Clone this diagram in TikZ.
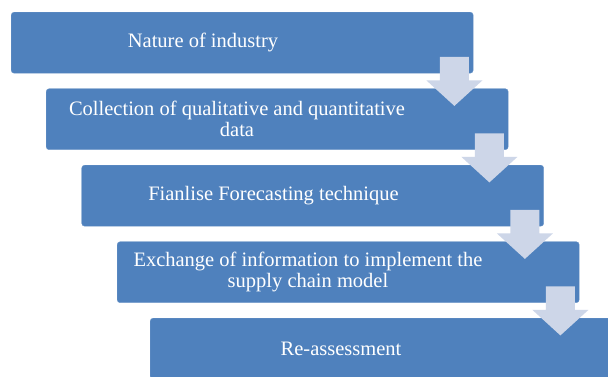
\documentclass[tikz,border=0pt]{standalone}
\usepackage{fontspec}
\setmainfont{Liberation Serif}
\usetikzlibrary{calc}
\definecolor{boxblue}{HTML}{4F81BD}
\definecolor{arrowgrey}{HTML}{CDD6E8}
\tikzset{
  stepbox/.style={draw=boxblue!85!white, line width=0.4pt, fill=boxblue, rounded corners=3pt,
    minimum width=462pt, minimum height=61pt, anchor=north west, inner sep=0pt},
  steptext/.style={text=white, font=\fontsize{20.5}{21}\selectfont, align=center, inner sep=0pt},
  blockarrow/.style={fill=arrowgrey, draw=none}
}
\newcommand{\downarrowshape}[1]{%
  \fill[blockarrow] ($(#1)+(-14.5,-16.5)$) -- ($(#1)+(14.5,-16.5)$) -- ($(#1)+(14.5,7)$)
    -- ($(#1)+(28,7)$) -- ($(#1)+(0,32.5)$) -- ($(#1)+(-28,7)$) -- ($(#1)+(-14.5,7)$) -- cycle;}
\begin{document}
\begin{tikzpicture}[x=1pt,y=-1pt]
\clip (0,0) rectangle (608,376);
\fill[white] (0,0) rectangle (608,376);
% boxes
\node[stepbox] (b1) at (11,12) {};
\node[stepbox] (b2) at (46,88.5) {};
\node[stepbox] (b3) at (81.5,165) {};
\node[stepbox] (b4) at (117,241.5) {};
\node[stepbox] (b5) at (150,318) {};
% texts
\node[steptext] (t1) at ([xshift=192pt]b1.west) {Nature of industry};
\node[steptext] (t2) at ([xshift=191pt]b2.west) {Collection of qualitative and quantitative\\data};
\node[steptext] (t3) at ([xshift=192pt]b3.west) {Fianlise Forecasting technique};
\node[steptext] (t4) at ([xshift=191pt]b4.west) {Exchange of information to implement the\\supply chain model};
\node[steptext] (t5) at ([xshift=191pt]b5.west) {Re-assessment};
% arrows
\coordinate (a1) at ([xshift=-19pt]b1.south east);
\coordinate (a2) at ([xshift=-19pt]b2.south east);
\coordinate (a3) at ([xshift=-19pt]b3.south east);
\coordinate (a4) at ([xshift=-19pt]b4.south east);
\downarrowshape{a1}
\downarrowshape{a2}
\downarrowshape{a3}
\downarrowshape{a4}
\end{tikzpicture}
\end{document}
